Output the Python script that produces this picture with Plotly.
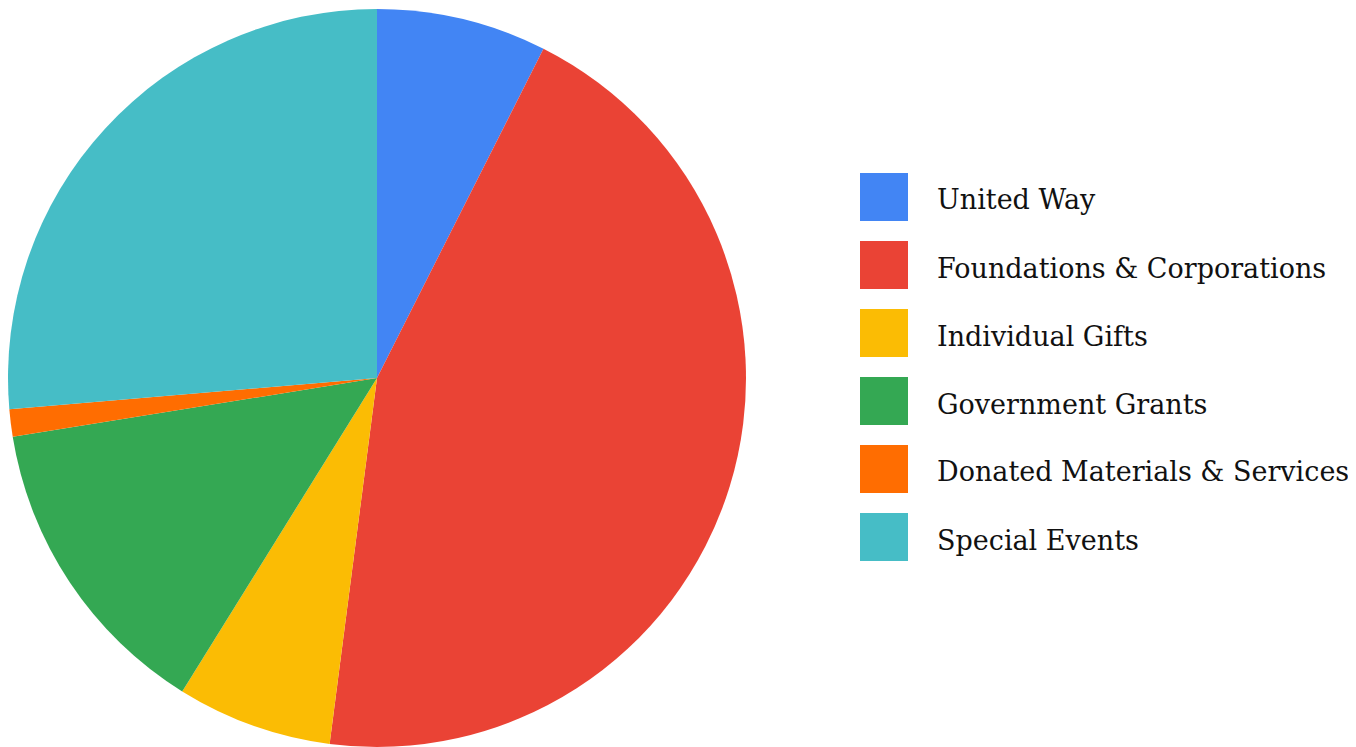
import plotly.graph_objects as go

labels = ["United Way", "Foundations & Corporations", "Individual Gifts",
          "Government Grants", "Donated Materials & Services", "Special Events"]
values = [7.45, 44.6, 6.8, 13.6, 1.2, 26.35]
colors = ["#4285F4", "#EA4335", "#FBBC04", "#34A853", "#FF6D01", "#46BDC6"]

W, H = 1356, 747
OFF = 8  # page body margin
cx, cy, r = 377 - OFF, 378 - OFF, 369

dy0 = max(0.0, (H - cy - r) / H)
dy1 = min(1.0, (H - cy + r) / H)
fig = go.Figure(go.Pie(
    labels=labels, values=values, sort=False, direction="clockwise", rotation=0,
    marker=dict(colors=colors, line=dict(width=0)),
    textinfo="none", hoverinfo="label+percent", showlegend=False,
    domain=dict(x=[max(0.0, (cx - r) / W), (cx + r) / W], y=[dy0, dy1]),
))

shapes, annotations = [], []
sw, x0, y0, step = 48, 860 - OFF, 173 - OFF, 68
for i, (lab, col) in enumerate(zip(labels, colors)):
    top = y0 + i * step
    shapes.append(dict(type="rect", xref="paper", yref="paper",
                       x0=x0 / W, x1=(x0 + sw) / W,
                       y0=1 - (top + sw) / H, y1=1 - top / H,
                       fillcolor=col, line=dict(width=0), layer="above"))
    annotations.append(dict(xref="paper", yref="paper", x=(935 - OFF) / W, y=1 - (top + sw / 2 + 3) / H,
                            text=lab, showarrow=False, xanchor="left", yanchor="middle",
                            font=dict(family="DejaVu Serif", size=27, color="#111111")))

fig.update_layout(width=W, height=H, margin=dict(l=0, r=0, t=0, b=0),
                  paper_bgcolor="white", plot_bgcolor="white",
                  shapes=shapes, annotations=annotations)
fig.write_html("out.html")
